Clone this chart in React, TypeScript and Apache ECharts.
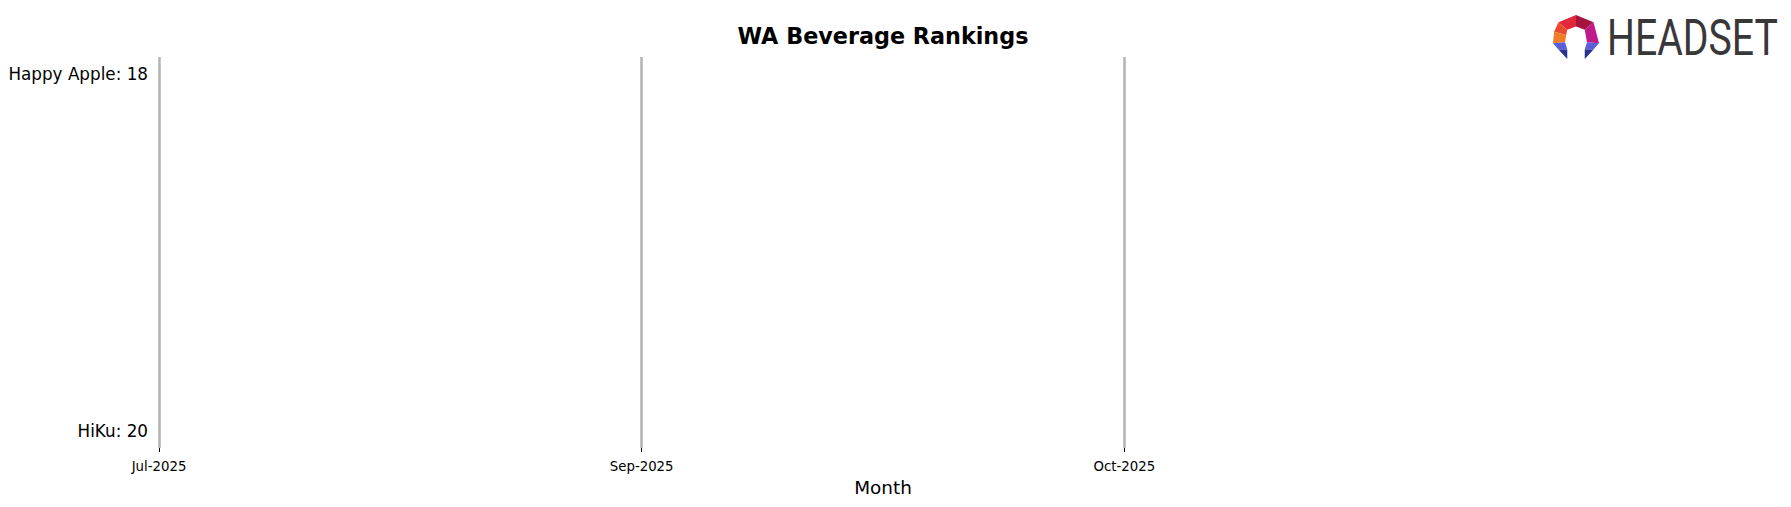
import React, { useEffect, useRef } from "react";
import * as echarts from "echarts";

const months = ["Jul-2025", "Sep-2025", "Oct-2025"];
const brands = ["Happy Apple", "HiKu"];
const ranks = [18, 20];
const brandMonth = [0, 0];

const W = 1791;
const H = 507;

// Headset icon polygons (local coords in a 42x42 box)
const iconPolys: { pts: number[][]; color: string }[] = [
  { pts: [[21, 0], [5, 7], [13, 14], [21, 11]], color: "#e0283a" },
  { pts: [[21, 0], [37, 7], [29, 14], [21, 11]], color: "#a5143f" },
  { pts: [[5, 7], [1, 16], [12, 19], [13, 14]], color: "#ec4a30" },
  { pts: [[1, 16], [0, 27], [11, 26], [12, 19]], color: "#f27d26" },
  { pts: [[37, 7], [42, 27], [31, 26], [29, 14]], color: "#c0198a" },
  { pts: [[0, 27], [11, 26], [13, 33], [5, 33]], color: "#5b5ed8" },
  { pts: [[5, 33], [13, 33], [13, 42]], color: "#283190" },
  { pts: [[42, 27], [31, 26], [29, 33], [37, 33]], color: "#5b5ed8" },
  { pts: [[37, 33], [29, 33], [29, 42]], color: "#283190" },
];

export default function App() {
  const ref = useRef<HTMLDivElement>(null);
  useEffect(() => {
    document.body.style.margin = "0";
    const chart = echarts.init(ref.current!, null, { renderer: "svg" });
    const axisData = [...months, ""];
    const iconX = 1553;
    const iconY = 15;
    const sx = 46 / 42;
    const sy = 44 / 42;
    chart.setOption({
      animation: false,
      backgroundColor: "#ffffff",
      textStyle: { fontFamily: "DejaVu Sans" },
      grid: { left: 159, right: W - 1607, top: 57, bottom: H - 448, containLabel: false },
      xAxis: {
        type: "category",
        data: axisData,
        boundaryGap: false,
        name: "Month",
        nameLocation: "middle",
        nameGap: 30,
        nameTextStyle: { fontSize: 18.4, color: "#000", fontFamily: "DejaVu Sans" },
        axisLine: { show: false },
        axisTick: {
          show: true,
          length: 4,
          interval: (i: number) => i < months.length,
          lineStyle: { color: "#000", width: 1 },
        },
        axisLabel: {
          fontSize: 13.3,
          color: "#000",
          margin: 12,
          fontFamily: "DejaVu Sans",
          interval: 0,
        },
        splitLine: {
          show: true,
          interval: (i: number) => i < months.length,
          lineStyle: { color: "#b3b3b3", width: 2.5 },
        },
      },
      yAxis: {
        type: "value",
        inverse: true,
        min: 17.902,
        max: 20.095,
        show: false,
        splitLine: { show: false },
      },
      series: brands.map((b, i) => ({
        type: "scatter",
        name: b,
        symbolSize: 0,
        itemStyle: { opacity: 1, color: "#000" },
        data: [[brandMonth[i], ranks[i]]],
        label: {
          show: true,
          position: "left",
          distance: 11,
          formatter: `${b}: ${ranks[i]}`,
          fontSize: 16.8,
          color: "#000",
          opacity: 1,
          fontFamily: "DejaVu Sans",
        },
        emphasis: { disabled: true },
      })),
      graphic: [
        {
          type: "text",
          x: 883,
          y: 36,
          style: {
            text: "WA Beverage Rankings",
            fontSize: 22.3,
            fontWeight: "bold",
            fontFamily: "DejaVu Sans",
            fill: "#000",
            align: "center",
            verticalAlign: "middle",
          },
        },
        ...iconPolys.map((p) => ({
          type: "polygon",
          shape: { points: p.pts.map(([x, y]) => [iconX + x * sx, iconY + y * sy]) },
          style: { fill: p.color },
        })),
        {
          type: "text",
          x: 1607,
          y: 38,
          scaleX: 0.775,
          style: {
            text: "HEADSET",
            fontSize: 50.6,
            fontFamily: "Roboto",
            fill: "#383838",
            align: "left",
            verticalAlign: "middle",
          },
        },
      ],
    });
    return () => chart.dispose();
  }, []);
  return <div ref={ref} style={{ width: W, height: H }} />;
}
